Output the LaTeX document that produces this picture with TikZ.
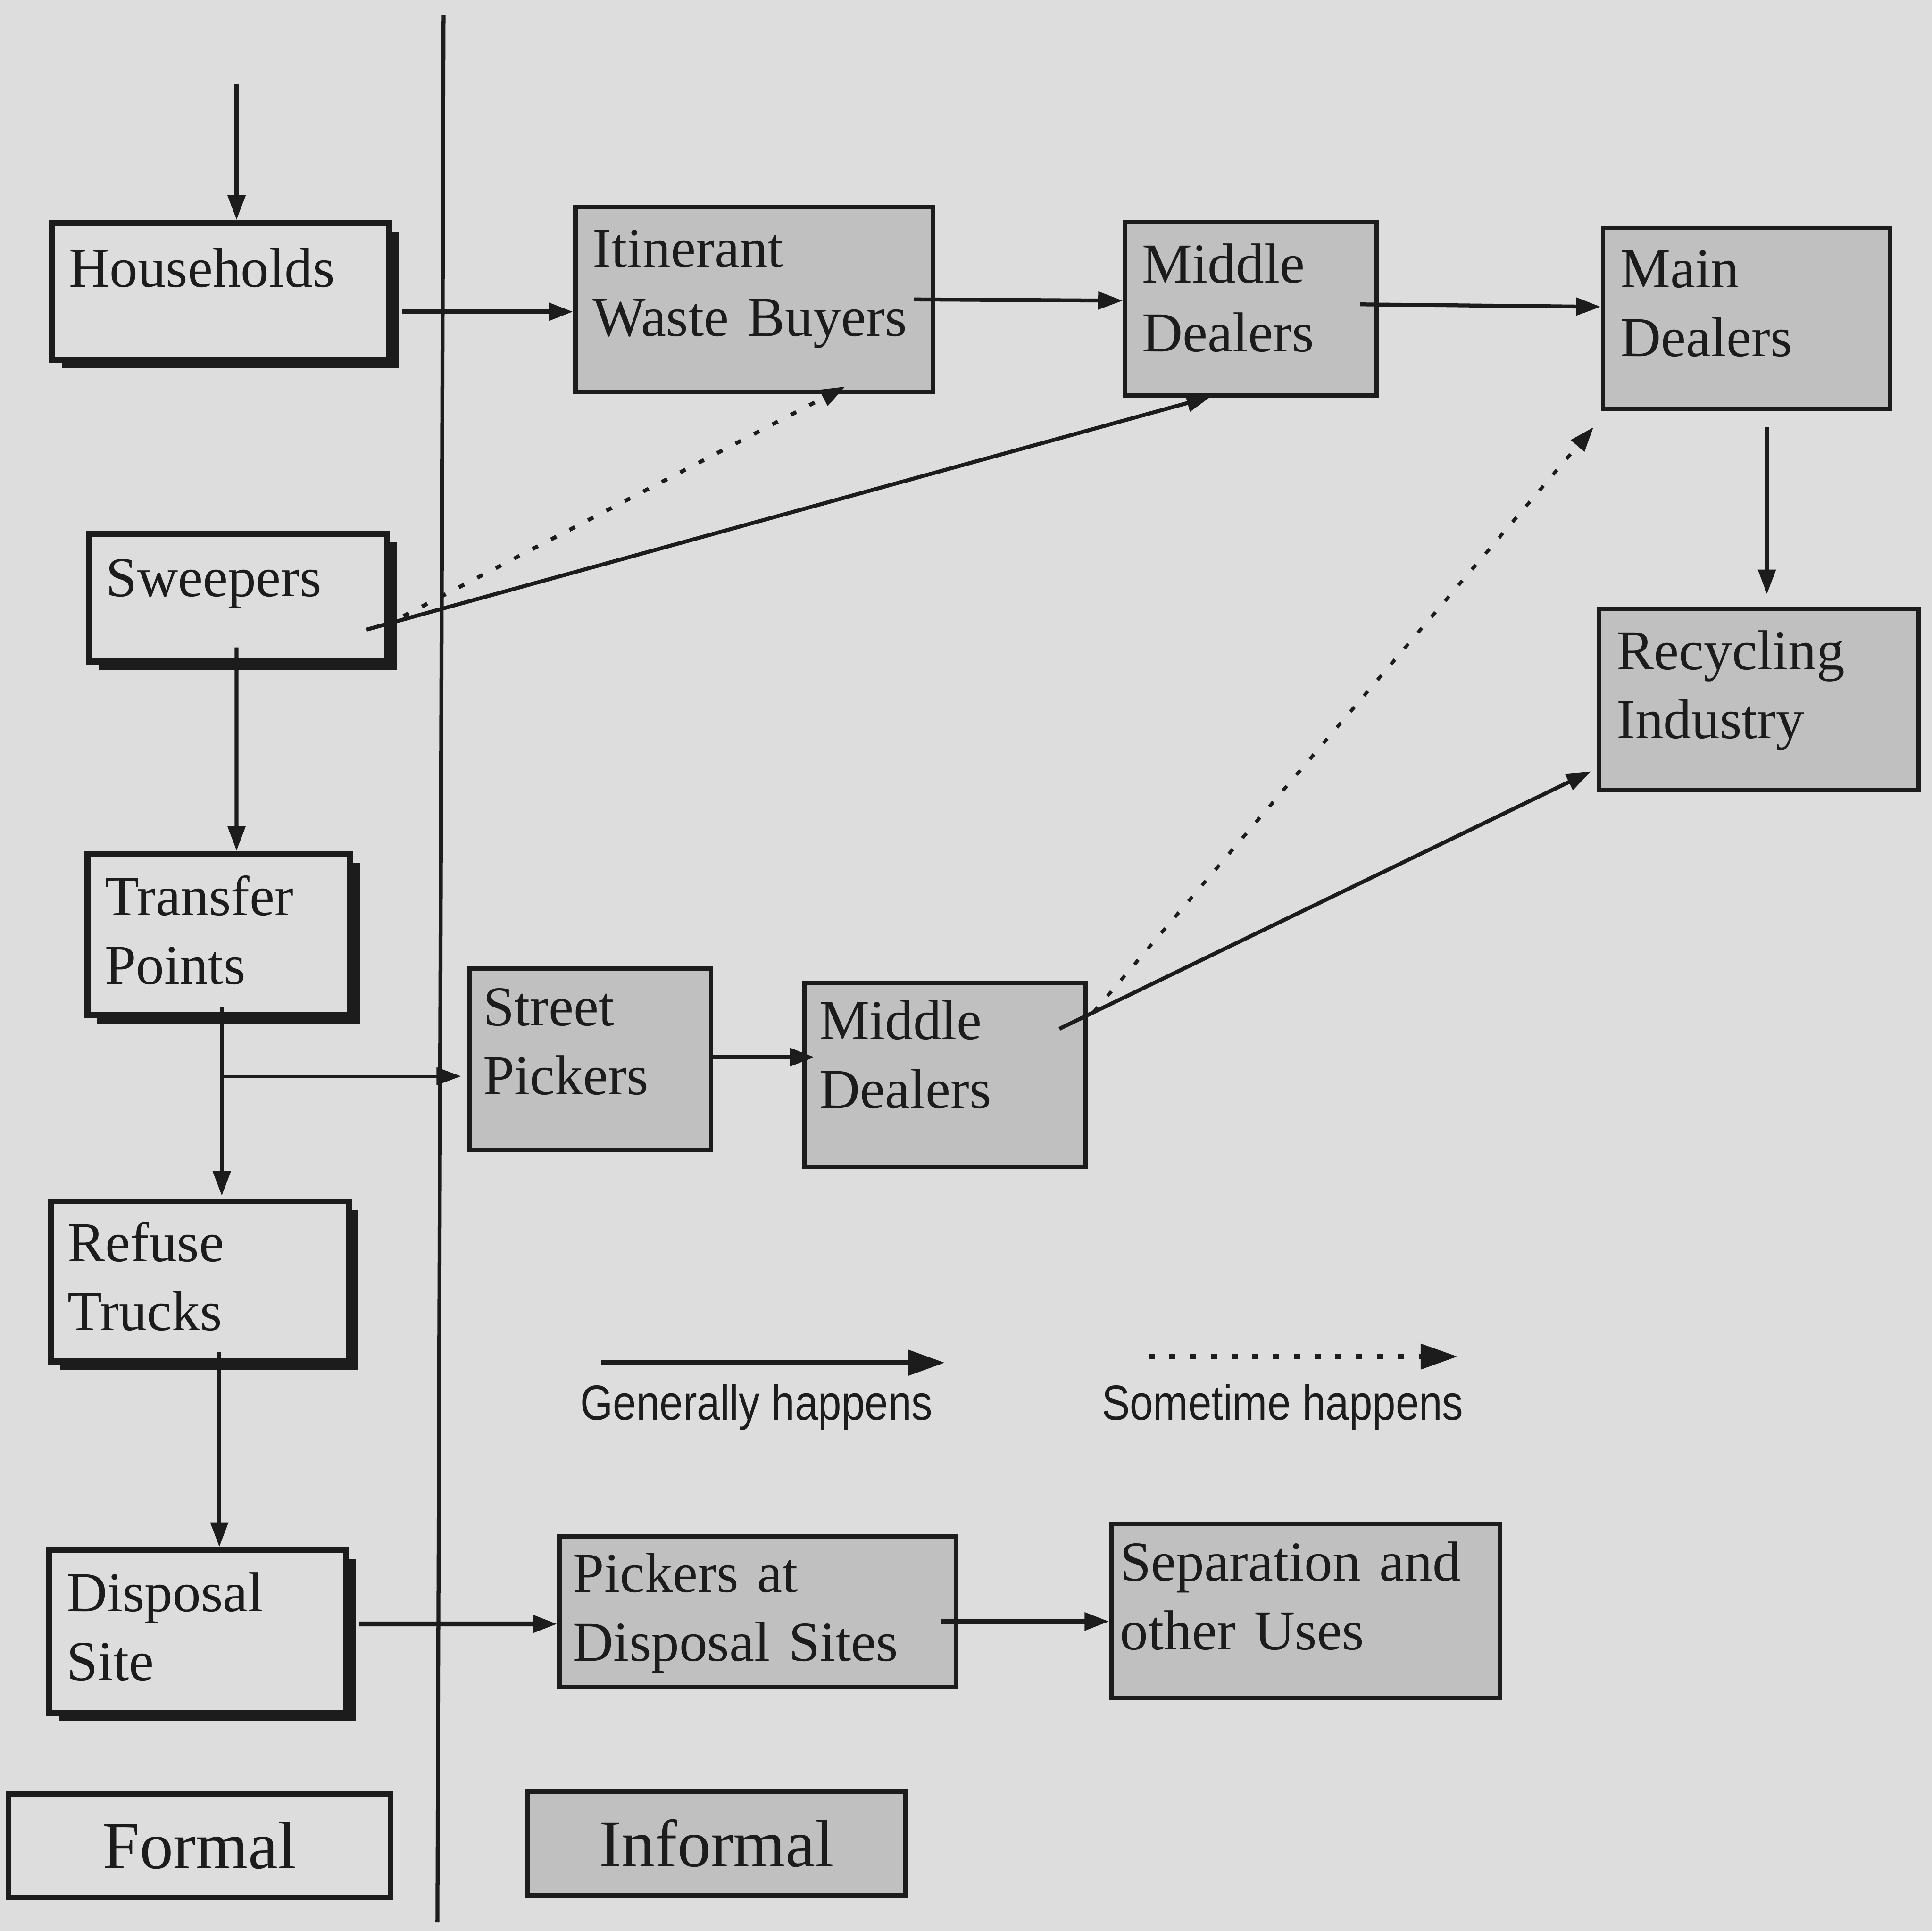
\documentclass[tikz,border=0pt]{standalone}
\usepackage{fontspec}
\setmainfont{Liberation Serif}
\newfontfamily\legendfont[FakeStretch=0.85]{Liberation Sans}
\usepackage{tikz}
\usetikzlibrary{arrows.meta,positioning,shadows}
\definecolor{paper}{RGB}{221,221,221}
\definecolor{boxgrey}{RGB}{192,192,192}
\definecolor{ink}{RGB}{28,28,28}
\begin{document}
\begin{tikzpicture}[font=\fontsize{13}{15.9}\selectfont, color=ink,
	formal/.style={draw=ink, line width=1.4pt, fill=paper, inner xsep=0.14cm, inner ysep=0.1cm, align=left,
		drop shadow={shadow xshift=0.08cm, shadow yshift=-0.07cm, fill=ink, opacity=1}},
	informal/.style={draw=ink, line width=1pt, fill=boxgrey, inner xsep=0.14cm, inner ysep=0.1cm, align=left},
	lift/.style={text height=0.321cm, text depth=#1},
	flow/.style={-{Triangle[length=0.2cm,width=0.14cm]}, line width=0.9pt},
	sometimes/.style={flow, dash pattern=on 1.4pt off 3.4pt},
	legbox/.style={draw=ink, line width=1.1pt, minimum width=3.1cm, minimum height=0.84cm, font=\fontsize{15.5}{18}\selectfont},
	legend/.style={font=\legendfont\fontsize{11.4}{13}\selectfont}]
		\fill[paper] (0,0) rectangle (15.68,-15.67);
		\useasboundingbox (0,0) rectangle (15.68,-15.67);
		% formal / informal divide
		\coordinate (divtop) at (3.60,-0.12);
		\coordinate (divbot) at (3.55,-15.60);
		\draw[line width=0.9pt] (divtop) -- (divbot);
		% formal chain
		\node[formal, text width=2.46cm, minimum height=1.11cm, text height=0.7em, text depth=0.9em] (households) at (1.79,-2.365) {Households};
		\node[formal, text width=2.14cm, minimum height=1.04cm, text height=0.7em, text depth=0.75em] (sweepers) at (1.93,-4.85) {Sweepers};
		\node[formal, lift=0.631cm, text width=1.85cm, minimum height=1.31cm] (transfer) at (1.775,-7.585) {Transfer\\Points};
		\node[formal, lift=0.641cm, text width=2.14cm, minimum height=1.30cm] (refuse) at (1.62,-10.40) {Refuse\\Trucks};
		\node[formal, lift=0.641cm, text width=2.13cm, minimum height=1.32cm] (disposal) at (1.605,-13.24) {Disposal\\Site};
		% informal chain
		\node[informal, lift=0.841cm, text width=2.62cm, minimum height=1.50cm] (itinerant) at (6.12,-2.43) {Itinerant\\Waste Buyers};
		\node[informal, lift=0.741cm, text width=1.76cm, minimum height=1.41cm] (middleA) at (10.15,-2.505) {Middle\\Dealers};
		\node[informal, lift=0.821cm, text width=2.05cm, minimum height=1.47cm] (mainD) at (14.175,-2.585) {Main\\Dealers};
		\node[informal, lift=0.801cm, text width=2.31cm, minimum height=1.47cm] (recycling) at (14.275,-5.675) {Recycling\\Industry};
		\node[informal, lift=0.861cm, inner xsep=0.11cm, text width=1.74cm, minimum height=1.47cm] (streetP) at (4.79,-8.595) {Street\\Pickers};
		\node[informal, lift=0.901cm, inner xsep=0.12cm, text width=2.04cm, minimum height=1.49cm] (middleB) at (7.67,-8.725) {Middle\\Dealers};
		\node[informal, lift=0.641cm, inner xsep=0.11cm, text width=3.00cm, minimum height=1.22cm] (pickers) at (6.15,-13.08) {Pickers at\\Disposal Sites};
		\node[informal, lift=0.811cm, inner xsep=0.07cm, text width=3.01cm, minimum height=1.41cm] (separation) at (10.595,-13.075) {Separation and\\other Uses};
		% flows
		\coordinate (wastein) at (1.92,-0.68);
		\draw[flow] (wastein) -- (wastein |- households.north);
		\draw[flow, line width=1.1pt] ([shift={(0.08,-0.165)}]households.east) -- ([yshift=-0.1cm]itinerant.west);
		\draw[flow] ([xshift=-0.17cm]itinerant.east) -- ([yshift=0.065cm]middleA.west);
		\draw[flow] ([shift={(-0.15,0.035)}]middleA.east) -- ([yshift=0.095cm]mainD.west);
		\draw[flow] ([shift={(0.165,-0.13)}]mainD.south) -- ([shift={(0.065,0.1)}]recycling.north);
		\draw[flow] ([shift={(-0.19,-0.26)}]sweepers.east) -- ([shift={(-0.32,0.01)}]middleA.south);
		\draw[sometimes] ([shift={(0.11,-0.15)}]sweepers.east) -- ([shift={(0.74,0.06)}]itinerant.south);
		\draw[flow] ([shift={(-0.01,0.14)}]sweepers.south) -- ([xshift=0.145cm]transfer.north);
		\draw[flow] ([shift={(0.025,0.09)}]transfer.south) -- ([shift={(0.18,0.02)}]refuse.north);
		\coordinate (branch) at ([shift={(0.025,-0.47)}]transfer.south);
		\draw[flow, line width=0.7pt] (branch) -- ([xshift=-0.05cm]branch -| streetP.west);
		\draw[flow, line width=1.1pt] ([yshift=0.015cm]streetP.east) -- ([shift={(0.1,0.145)}]middleB.west);
		\draw[flow] ([shift={(-0.23,0.375)}]middleB.east) -- ([shift={(-0.05,-0.585)}]recycling.west);
		\draw[sometimes, line width=0.8pt] ([shift={(0.05,-0.25)}]middleB.north east) -- ([shift={(-0.06,-0.13)}]mainD.south west);
		\draw[flow] ([shift={(0.16,0.1)}]refuse.south) -- ([xshift=0.175cm]disposal.north);
		\draw[flow, line width=1.1pt] ([shift={(0.08,0.06)}]disposal.east) -- ([yshift=-0.1cm]pickers.west);
		\draw[flow, line width=1.1pt] ([shift={(-0.14,-0.08)}]pickers.east) -- ([yshift=-0.085cm]separation.west);
		% legend
		\coordinate (genA) at (4.88,-11.06);
		\coordinate (genB) at (7.67,-11.06);
		\coordinate (somA) at (9.32,-11.01);
		\coordinate (somB) at (11.83,-11.01);
		\draw[flow, line width=1.3pt, -{Triangle[length=0.3cm,width=0.2cm]}] (genA) -- (genB);
		\draw[sometimes, line width=1.1pt, -{Triangle[length=0.3cm,width=0.2cm]}] (somA) -- (somB);
		\node[legend] (genlbl) at (6.14,-11.42) {Generally happens};
		\node[legend] (somlbl) at (10.41,-11.42) {Sometime happens};
		\node[legbox, fill=paper] (formal) at (1.62,-14.98) {Formal};
		\node[legbox, fill=boxgrey, minimum width=3.07cm] (informal) at (5.815,-14.96) {Informal};
	\end{tikzpicture}
\end{document}
